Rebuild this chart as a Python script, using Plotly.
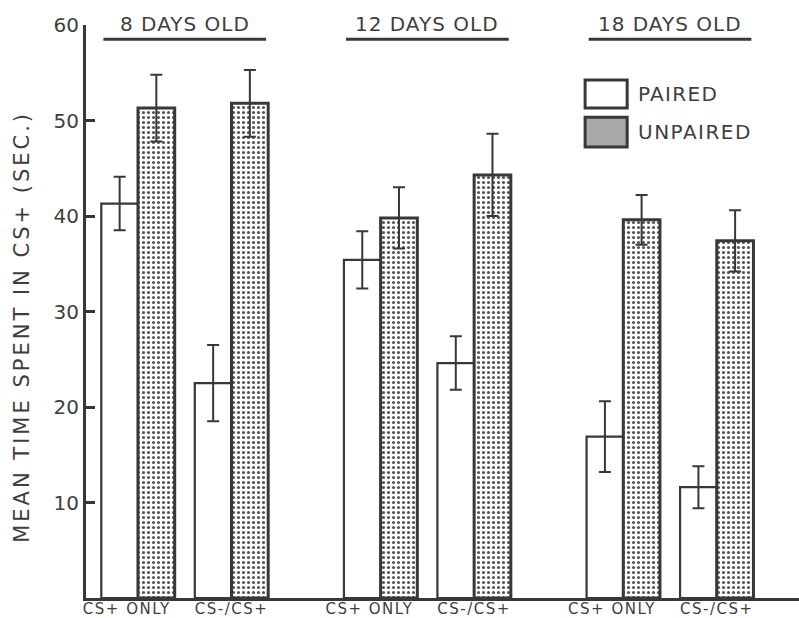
import plotly.graph_objects as go

# ---- data ----
ages = ["8 DAYS OLD", "12 DAYS OLD", "18 DAYS OLD"]
conditions = ["CS+ ONLY", "CS-/CS+"]
paired_mean = [41.3, 22.5, 35.4, 24.6, 16.9, 11.6]
paired_err = [2.8, 4.0, 3.0, 2.8, 3.7, 2.2]
unpaired_mean = [51.3, 51.8, 39.8, 44.3, 39.6, 37.4]
unpaired_err = [3.5, 3.5, 3.2, 4.3, 2.6, 3.2]
y_ticks = [10, 20, 30, 40, 50, 60]

# ---- layout helpers ----
GAP = 2.595  # distance between age groups (in condition units)
xpos = [g * GAP + c for g in range(len(ages)) for c in range(len(conditions))]
xlabels = [conditions[c] for g in range(len(ages)) for c in range(len(conditions))]
label_shift = [-0.12 if c == 0 else 0.0 for g in range(len(ages)) for c in range(len(conditions))]

INK = "#383838"
TXT = "#3e3e3e"
FONT = "DejaVu Sans"


def spaced(s, px):
    return f'<span style="letter-spacing:{px}px">{s}</span>'


fig = go.Figure()
fig.add_trace(go.Bar(
    x=xpos, y=paired_mean, name="PAIRED",
    marker=dict(color="white", line=dict(color=INK, width=2.2)),
    error_y=dict(type="data", array=paired_err, color=INK, thickness=2, width=6),
    showlegend=False,
))
fig.add_trace(go.Bar(
    x=xpos, y=unpaired_mean, name="UNPAIRED",
    marker=dict(color="white", line=dict(color=INK, width=3),
                pattern=dict(shape=".", fgcolor="#555555", bgcolor="white",
                             size=5, solidity=0.3)),
    error_y=dict(type="data", array=unpaired_err, color=INK, thickness=2, width=6),
    showlegend=False,
))

X0 = (86 - 138) / 93.5
X1 = (799 - 138) / 93.5

shapes = []
annotations = []
for g, age in enumerate(ages):
    gc = g * GAP + 0.5
    shapes.append(dict(type="line", xref="x", yref="y", x0=gc - 0.87, x1=gc + 0.87,
                       y0=58.5, y1=58.5, line=dict(color=INK, width=3)))
    annotations.append(dict(text=spaced(age, 1), xref="x", yref="paper", x=gc, y=1.002,
                            showarrow=False, xanchor="center", yanchor="middle",
                            font=dict(family=FONT, size=20, color=TXT)))

# legend drawn manually (large boxes like the original)
shapes.append(dict(type="rect", xref="paper", yref="paper", x0=0.700, x1=0.759,
                   y0=0.855, y1=0.904, line=dict(color=INK, width=3), fillcolor="white"))
shapes.append(dict(type="rect", xref="paper", yref="paper", x0=0.700, x1=0.759,
                   y0=0.787, y1=0.839, line=dict(color=INK, width=3), fillcolor="#a8a8a8"))
annotations.append(dict(text=spaced("PAIRED", 1.3), xref="paper", yref="paper", x=0.771, y=0.880,
                        showarrow=False, xanchor="left", yanchor="middle",
                        font=dict(family=FONT, size=20, color=TXT)))
annotations.append(dict(text=spaced("UNPAIRED", 1.5), xref="paper", yref="paper", x=0.771, y=0.814,
                        showarrow=False, xanchor="left", yanchor="middle",
                        font=dict(family=FONT, size=20, color=TXT)))
annotations.append(dict(text=spaced("MEAN TIME SPENT IN CS+ (SEC.)", 3), xref="paper", yref="paper",
                        x=-0.09, y=0.473, textangle=-90, showarrow=False,
                        xanchor="center", yanchor="middle",
                        font=dict(family=FONT, size=21, color=TXT)))

fig.update_layout(
    template="none",
    width=799, height=618,
    margin=dict(l=86, r=0, t=25, b=20, autoexpand=False),
    paper_bgcolor="white", plot_bgcolor="white",
    barmode="group", bargap=0.215, bargroupgap=0,
    shapes=shapes, annotations=annotations,
    font=dict(family=FONT, color=TXT),
)
fig.update_xaxes(
    range=[X0, X1], showgrid=False, zeroline=False, automargin=False,
    showline=True, linecolor=INK, linewidth=3,
    tickmode="array", tickvals=[x + s for x, s in zip(xpos, label_shift)],
    ticktext=[spaced(t, 1.5) for t in xlabels], ticks="", ticklabelstandoff=-5,
    tickfont=dict(family=FONT, size=15, color=TXT),
)
fig.update_yaxes(
    range=[0, 60], showgrid=False, zeroline=False, automargin=False,
    showline=True, linecolor=INK, linewidth=3,
    tickmode="array", tickvals=y_ticks, ticktext=[str(v) for v in y_ticks],
    ticks="inside", ticklen=9, tickwidth=3, tickcolor=INK,
    tickfont=dict(family=FONT, size=20, color=TXT),
)

fig.write_html("out.html", config={"displayModeBar": False},
               post_script="document.body.style.margin='0';")
